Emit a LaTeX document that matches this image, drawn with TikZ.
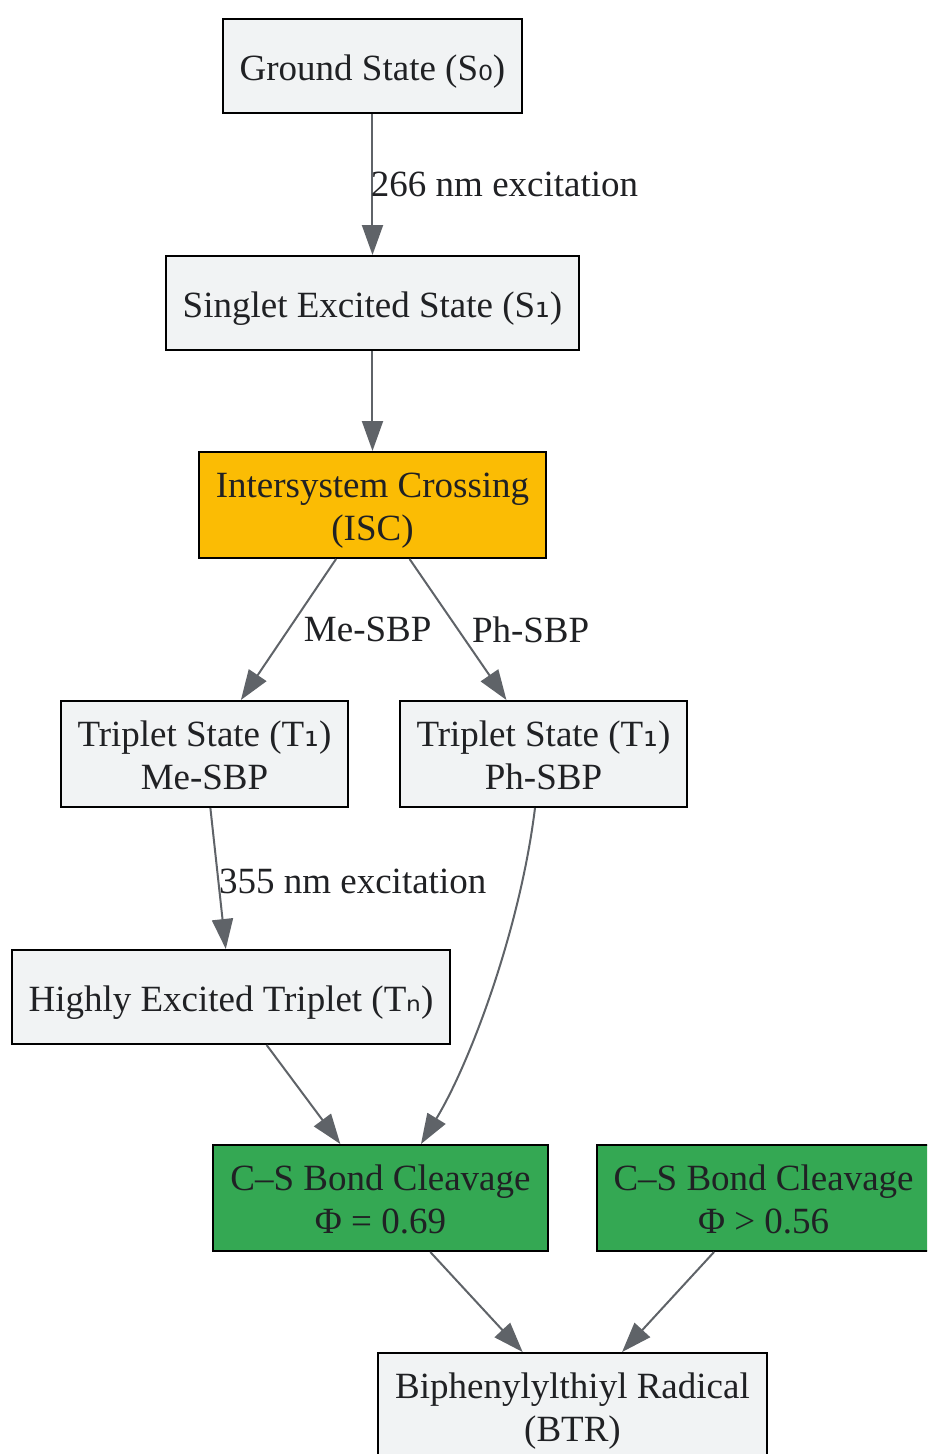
\documentclass[tikz,border=0pt]{standalone}
\usepackage{fontspec}
\setmainfont{Liberation Serif}
\newfontfamily\subfont{DejaVu Sans}
\usetikzlibrary{positioning, arrows.meta}
\definecolor{colorfill}{HTML}{F1F3F4}
\definecolor{colorisc}{HTML}{FBBC04}
\definecolor{colorcleave}{HTML}{34A853}
\definecolor{coloredge}{HTML}{5F6368}
\definecolor{colortext}{HTML}{202124}
\newcommand{\lowidx}[1]{{\subfont #1}}

\begin{document}
\begin{tikzpicture}[
    % Boxes as in the reference layout
    box/.style={
        rectangle,
        draw=black,
        fill=colorfill,
        align=center,
        inner xsep=17pt,
        minimum height=94pt,
        line width=2pt,
        text=colortext,
        font=\fontsize{37pt}{43pt}\selectfont,
        % fixed height above the last baseline and depth below it
        execute at begin node={\rule{0pt}{38pt}},
        execute at end node={\rule[-10pt]{0pt}{10pt}}
    },
    tallbox/.style={
        box,
        minimum height=106pt,
        execute at begin node={\rule{0pt}{81pt}}
    },
    lbl/.style={
        inner sep=0pt,
        text=colortext,
        font=\fontsize{37pt}{43pt}\selectfont
    },
    arrow/.style={
        -{Triangle[length=30pt, width=21pt]},
        coloredge,
        line width=2pt
    }
]

% Page frame
\useasboundingbox (-372.5pt,66pt) rectangle (554.5pt,-1388pt);
\clip (-372.5pt,66pt) rectangle (554.5pt,-1388pt);

% ==============================
% Rows 1-3: Excitation and ISC
% ==============================
\node[box] (ground) at (0,0) {Ground State (S\lowidx{₀})};

\node[box, below=141pt of ground] (singlet) {Singlet Excited State (S\lowidx{₁})};

\node[tallbox, fill=colorisc, below=100pt of singlet] (isc) {
    Intersystem Crossing \\
    (ISC)
};

% ==============================
% Row 4: Triplet states
% ==============================
\node[tallbox, below=141pt of isc, xshift=-168pt] (tme) {
    Triplet State (T\lowidx{₁}) \\
    Me-SBP
};

\node[tallbox, below=141pt of isc, xshift=171pt] (tph) {
    Triplet State (T\lowidx{₁}) \\
    Ph-SBP
};

\node[box, below=141pt of tme, xshift=26.5pt] (tn) {Highly Excited Triplet (T\lowidx{ₙ})};

% ==============================
% Row 6-7: Cleavage and radical
% ==============================
\node[tallbox, fill=colorcleave, below=99pt of tn, xshift=149.5pt] (csme) {
    C–S Bond Cleavage \\
    Φ = 0.69
};

\node[tallbox, fill=colorcleave, right=47pt of csme] (csph) {
    C–S Bond Cleavage \\
    Φ > 0.56
};

\node[tallbox, below=100pt of csme, xshift=192pt] (btr) {
    Biphenylylthiyl Radical \\
    (BTR)
};

% ==============================
% Arrows
% ==============================
\draw[arrow] (ground) -- node[lbl, anchor=west, xshift=-2.5pt] {266 nm excitation} (singlet);
\draw[arrow] (singlet) -- (isc);

\draw[arrow] (isc) -- node[lbl, anchor=west, xshift=14.5pt] {Me-SBP} (tme);
\draw[arrow] (isc) -- node[lbl, anchor=west, xshift=13pt] {Ph-SBP} (tph);

\draw[arrow] (tme) -- node[lbl, anchor=west, yshift=-2.5pt] {355 nm excitation} (tn);

% Curved path from Ph-SBP triplet straight to cleavage
\draw[arrow] ([xshift=-8.5pt]tph.south) .. controls +(-15pt,-122pt) and +(49pt,81pt) .. ([xshift=40.5pt]csme.north);
\draw[arrow] (tn) -- (csme);

\draw[arrow] (csme) -- (btr);
\draw[arrow] (csph) -- (btr);

\end{tikzpicture}
\end{document}
